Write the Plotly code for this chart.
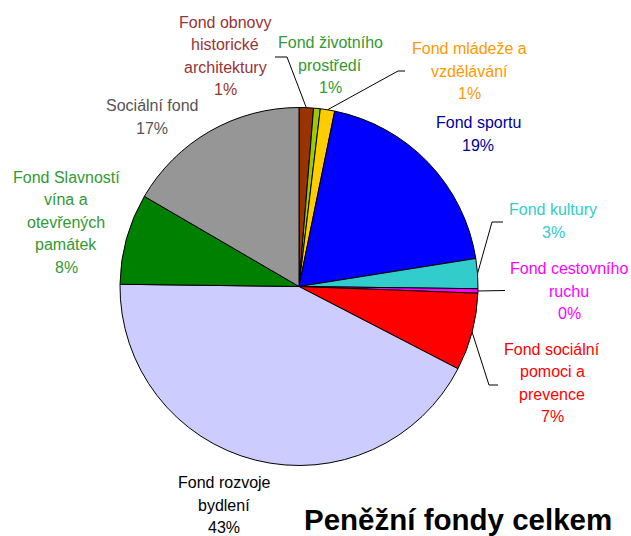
import math
import plotly.graph_objects as go

# ---- data ----
categories = [
    "Fond obnovy historické architektury",
    "Fond životního prostředí",
    "Fond mládeže a vzdělávání",
    "Fond sportu",
    "Fond kultury",
    "Fond cestovního ruchu",
    "Fond sociální pomoci a prevence",
    "Fond rozvoje bydlení",
    "Fond Slavností vína a otevřených památek",
    "Sociální fond",
]
values = [1.3, 0.6, 1.3, 19.3, 2.7, 0.4, 7.0, 42.6, 8.2, 16.6]
label_lines = [
    ["Fond obnovy", "historické", "architektury"],
    ["Fond životního", "prostředí"],
    ["Fond mládeže a", "vzdělávání"],
    ["Fond sportu"],
    ["Fond kultury"],
    ["Fond cestovního", "ruchu"],
    ["Fond sociální", "pomoci a", "prevence"],
    ["Fond rozvoje", "bydlení"],
    ["Fond Slavností", "vína a", "otevřených", "památek"],
    ["Sociální fond"],
]
title_text = "Peněžní fondy celkem"

# ---- styles ----
slice_colors = ["#993300", "#99CC00", "#FFCC00", "#0000FF", "#33CCCC",
                "#FF00FF", "#FF0000", "#CCCCFF", "#008000", "#969696"]
text_colors = ["#993333", "#339933", "#FF9900", "#000099", "#33CCCC",
               "#FF00FF", "#FF0000", "#000000", "#339933", "#555555"]
# label block centres (px) and leader elbow points (px)
label_pos = [(225, 56), (330, 65), (469, 71), (478, 134), (553, 221),
             (569, 291), (552, 383), (224, 505), (66, 222), (152, 117)]
leader_pts = {
    0: [(287, 57), (275, 57)],
    2: [(398, 71), (405, 71)],
    4: [(492, 222), (503, 222)],
    5: [(505, 290.5)],
    6: [(489, 385), (498, 385)],
}

W, H = 631, 536
CX, CY, R = 299, 286.5, 179
FONT = "Liberation Sans, Arial, sans-serif"
LINE_H = 22.5

fig = go.Figure(go.Pie(
    labels=categories,
    values=values,
    sort=False,
    direction="clockwise",
    rotation=0,
    marker=dict(colors=slice_colors, line=dict(color="black", width=1)),
    textinfo="none",
    hoverinfo="label+percent",
    domain=dict(x=[(CX - R) / W, (CX + R) / W],
                y=[1 - (CY + R) / H, 1 - (CY - R) / H]),
    showlegend=False,
))

def px(x):
    return x / W

def py(y):
    return 1 - y / H

total = sum(values)
annotations = []
shapes = []
cum = 0.0
for i, (v, lines) in enumerate(zip(values, label_lines)):
    pct = int(math.floor(v / total * 100 + 0.5))
    all_lines = lines + [f"{pct}%"]
    cx, cy = label_pos[i]
    n = len(all_lines)
    for k, line in enumerate(all_lines):
        yy = cy + (k - (n - 1) / 2) * LINE_H
        annotations.append(dict(
            x=px(cx), y=py(yy), xref="paper", yref="paper",
            text=line, showarrow=False, xanchor="center", yanchor="middle",
            font=dict(family=FONT, size=16, color=text_colors[i]),
        ))
    mid = (cum + v / 2) / total * 2 * math.pi
    cum += v
    if i in leader_pts:
        sx = CX + R * math.sin(mid)
        sy = CY - R * math.cos(mid)
        pts = [(sx, sy)] + leader_pts[i]
        path = "M " + " L ".join(f"{px(a)},{py(b)}" for a, b in pts)
        shapes.append(dict(type="path", path=path, xref="paper", yref="paper",
                           line=dict(color="black", width=1)))

annotations.append(dict(
    x=px(458), y=py(519), xref="paper", yref="paper",
    text=f"<b>{title_text}</b>", showarrow=False,
    xanchor="center", yanchor="middle",
    font=dict(family=FONT, size=29.5, color="black"),
))

fig.update_layout(
    width=W, height=H,
    margin=dict(l=0, r=0, t=0, b=0),
    paper_bgcolor="white", plot_bgcolor="white",
    annotations=annotations, shapes=shapes,
)

fig.write_html(
    "out.html",
    config={"displayModeBar": False},
    post_script="document.body.style.margin='0';document.body.style.overflow='hidden';",
)
